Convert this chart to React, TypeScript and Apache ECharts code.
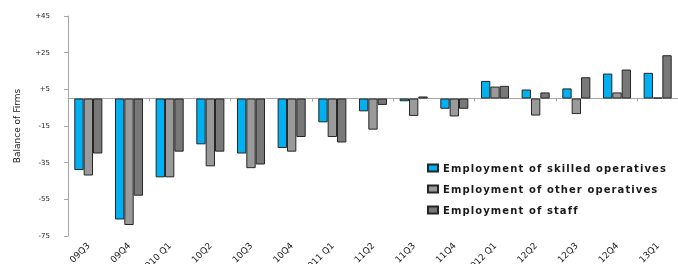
import React, { useEffect, useRef } from 'react';
import * as echarts from 'echarts';

const categories = ['09Q3', '09Q4', '2010 Q1', '10Q2', '10Q3', '10Q4', '2011 Q1', '11Q2', '11Q3', '11Q4', '2012 Q1', '12Q2', '12Q3', '12Q4', '13Q1'];
const seriesNames = ['Employment of skilled operatives', 'Employment of other operatives', 'Employment of staff'];
const skilled = [-39, -66, -43, -25, -30, -27, -13, -7, -1.5, -5.6, 9.6, 4.9, 5.5, 13.6, 14];
const other = [-42, -69, -43, -37, -38, -29, -21, -17, -9.5, -9.8, 6.5, -9.3, -8.5, 3.3, 0.5];
const staff = [-30, -53, -29, -29, -36, -21, -24, -3.5, 1.1, -5.6, 6.9, 3.3, 11.6, 15.8, 23.6];
const yTicks = [-75, -55, -35, -15, 5, 25, 45];
const colors = ['#00B0F0', '#9A9A9A', '#787878'];

export default function App() {
  const ref = useRef<HTMLDivElement>(null);
  useEffect(() => {
    const chart = echarts.init(ref.current!, null, { renderer: 'svg' });
    const data = [skilled, other, staff];
    chart.setOption({
      animation: false,
      textStyle: { fontFamily: 'DejaVu Sans' },
      grid: { left: 68, right: 0, top: 16, height: 220, containLabel: false, outerBoundsMode: 'none' },
      legend: {
        orient: 'vertical',
        left: 427,
        top: 163,
        padding: 0,
        itemWidth: 10,
        itemHeight: 7,
        itemGap: 11,
        icon: 'rect',
        textStyle: { fontFamily: "'DejaVu Sans', sans-serif", fontSize: 10, fontWeight: 'bold', color: '#1a1a1a' },
        data: seriesNames,
      },
      xAxis: [
        {
          type: 'category',
          data: categories,
          position: 'bottom',
          axisLine: { show: false, onZero: false },
          axisTick: { show: false },
          axisLabel: { interval: 0, rotate: 45, margin: 8, fontSize: 9, color: '#1a1a1a' },
        },
        {
          type: 'category',
          data: categories,
          position: 'top',
          axisLine: { show: true, onZero: true, lineStyle: { color: '#a6a6a6', width: 1 } },
          axisTick: { show: true, inside: true, length: 3, lineStyle: { color: '#a6a6a6' } },
          axisLabel: { show: false },
        },
      ],
      yAxis: {
        type: 'value',
        min: -75,
        max: 45,
        name: 'Balance of Firms',
        nameLocation: 'middle',
        nameRotate: 90,
        nameGap: 47,
        nameTextStyle: { fontSize: 9, color: '#1a1a1a' },
        axisLine: { show: true, lineStyle: { color: '#a6a6a6' } },
        axisTick: { show: true, length: 4, customValues: yTicks, lineStyle: { color: '#a6a6a6' } },
        splitLine: { show: false },
        axisLabel: {
          customValues: yTicks,
          margin: 18,
          fontSize: 7,
          color: '#1a1a1a',
          formatter: (v: number) => (v > 0 ? '+' + v : String(v)),
        },
      },
      series: seriesNames.map((name, i) => ({
        name,
        type: 'bar',
        xAxisIndex: 0,
        data: data[i],
        barGap: '0%',
        barCategoryGap: '31%',
        itemStyle: { color: colors[i], borderColor: '#262626', borderWidth: 1 },
      })),
    });
    return () => chart.dispose();
  }, []);
  return (
    <>
      <style>{`#chartbox svg text[style*="sans-serif"], #chartbox svg text[font-family*="sans-serif"] { letter-spacing: 1.1px; }`}</style>
      <div id="chartbox" ref={ref} style={{ position: 'fixed', left: 0, top: 0, width: 678, height: 264 }} />
    </>
  );
}
